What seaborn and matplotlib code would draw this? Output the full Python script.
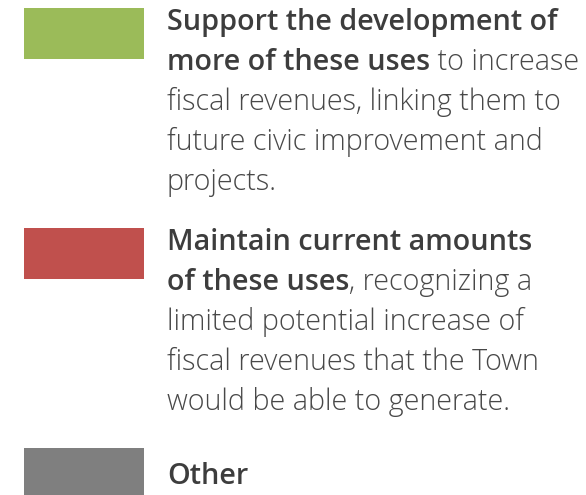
import seaborn as sns
import matplotlib.pyplot as plt

# legend swatches
categories = ["Support", "Maintain", "Other"]
swatch = [1, 1, 1]
colors = ["#9BBB59", "#C0504D", "#7F7F7F"]

# (bold part, regular part) per line
support_lines = [
    ("Support the development of", ""),
    ("more of these uses", " to increase"),
    ("", "fiscal revenues, linking them to"),
    ("", "future civic improvement and"),
    ("", "projects."),
]
maintain_lines = [
    ("Maintain current amounts", ""),
    ("of these uses", ", recognizing a"),
    ("", "limited potential increase of"),
    ("", "fiscal revenues that the Town"),
    ("", "would be able to generate."),
]
other_lines = [("Other", "")]

sns.set_theme(style="white")
plt.rcParams["font.family"] = ["Open Sans", "DejaVu Sans"]

fig = plt.figure(figsize=(5.86, 4.95), dpi=100)
ax = fig.add_axes([0, 0, 1, 1])
sns.barplot(x=swatch, y=categories, hue=categories, palette=colors,
            saturation=1, width=0.232, linewidth=0, legend=False,
            orient="h", ax=ax)
ax.set_xlim(-0.2, 4.683)
ax.set_ylim(2.0977, -0.1523)
ax.axis("off")

text_x = 1.19
size = 20.7
bold_color = "#3d3d3d"
reg_color = "#484848"
first_offset = [2.5, 2.3, -7.6]  # points from swatch centre to first baseline
line_step = 28.8

for i, lines in enumerate([support_lines, maintain_lines, other_lines]):
    for j, (bold, regular) in enumerate(lines):
        dy = first_offset[i] - j * line_step
        if bold:
            b = ax.annotate(bold, xy=(text_x, i), xytext=(0, dy),
                            textcoords="offset points", fontsize=size,
                            fontweight="semibold", color=bold_color,
                            va="baseline", ha="left")
            if regular:
                ax.annotate(regular, xy=(1, 0), xycoords=b, fontsize=size,
                            fontweight="light", color=reg_color,
                            va="bottom", ha="left")
        else:
            ax.annotate(regular, xy=(text_x, i), xytext=(0, dy),
                        textcoords="offset points", fontsize=size,
                        fontweight="light", color=reg_color,
                        va="baseline", ha="left")

fig.savefig("out.png", dpi=100)
